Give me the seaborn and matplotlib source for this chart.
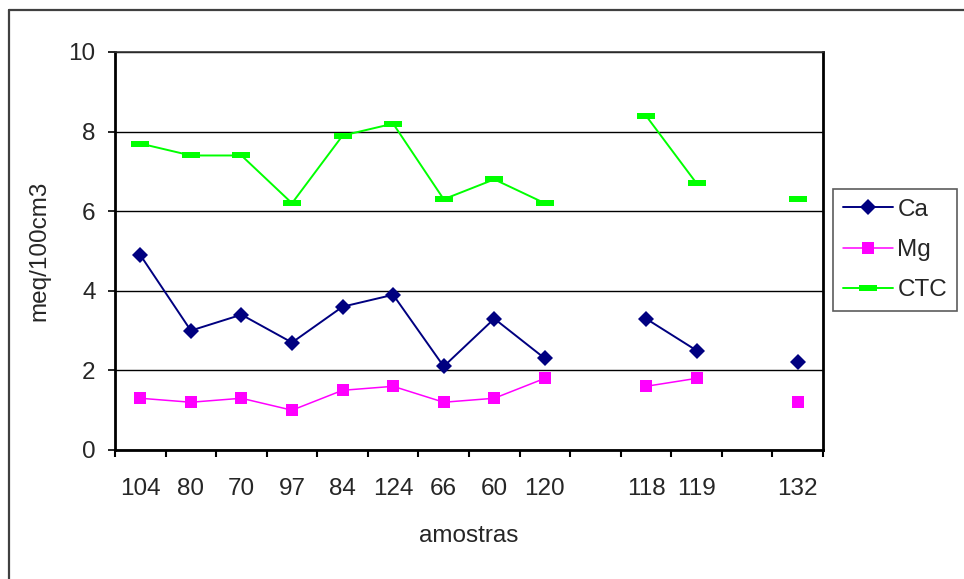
import numpy as np
import pandas as pd
import matplotlib
matplotlib.use("Agg")
import matplotlib.pyplot as plt
from matplotlib.lines import Line2D
import seaborn as sns

# Sample labels along the x axis (empty slots are unlabeled gaps)
amostras = ["104", "80", "70", "97", "84", "124", "66", "60", "120", "", "118", "119", "", "132"]

# Exchangeable cations and CTC (meq/100cm3); NaN where no sample
ca = [4.9, 3.0, 3.4, 2.7, 3.6, 3.9, 2.1, 3.3, 2.3, np.nan, 3.3, 2.5, np.nan, 2.2]
mg = [1.3, 1.2, 1.3, 1.0, 1.5, 1.6, 1.2, 1.3, 1.8, np.nan, 1.6, 1.8, np.nan, 1.2]
ctc = [7.7, 7.4, 7.4, 6.2, 7.9, 8.2, 6.3, 6.8, 6.2, np.nan, 8.4, 6.7, np.nan, 6.3]

series_names = ["Ca", "Mg", "CTC"]
series_values = [ca, mg, ctc]
colors = {"Ca": "#000080", "Mg": "#FF00FF", "CTC": "#00FF00"}
dash_marker = [(-1.0, -0.32), (1.0, -0.32), (1.0, 0.32), (-1.0, 0.32), (-1.0, -0.32)]
markers = {"Ca": "D", "Mg": "s", "CTC": dash_marker}
msizes = {"Ca": 8.5, "Mg": 9, "CTC": 13}
lwidths = {"Ca": 1.4, "Mg": 1.1, "CTC": 1.4}
FS = 17.5

# Long-form table; a segment id keeps lines broken across missing samples
rows = []
pos = np.arange(len(amostras))
for name, vals in zip(series_names, series_values):
    seg = 0
    for i, v in enumerate(vals):
        if np.isnan(v):
            seg += 1
            continue
        rows.append({"pos": i, "valor": v, "serie": name, "seg": seg})
df = pd.DataFrame(rows)

sns.set_theme(style="white")
plt.rcParams["font.family"] = ["Liberation Sans", "DejaVu Sans"]

fig = plt.figure(figsize=(9.64, 5.79), dpi=100)
ax = fig.add_axes([115 / 964, 1 - 450 / 579, (823 - 115) / 964, (450 - 52) / 579])

for name in series_names:
    sub = df[df["serie"] == name]
    sns.lineplot(data=sub, x="pos", y="valor", units="seg", estimator=None,
                 color=colors[name], linewidth=lwidths[name], marker=markers[name],
                 markersize=msizes[name], markeredgecolor=colors[name],
                 markeredgewidth=0, ax=ax, legend=False, sort=False, zorder=3)

ax.set_xlim(-0.5, len(amostras) - 0.5)
ax.set_ylim(0, 10)
ax.set_yticks([0, 2, 4, 6, 8, 10])
ax.set_yticklabels(["0", "2", "4", "6", "8", "10"])
ax.yaxis.grid(True, color="black", linewidth=1.0)
ax.set_axisbelow(True)

# Category boundaries carry the tick marks, centers carry the labels
ax.set_xticks(np.arange(len(amostras) + 1) - 0.5)
ax.set_xticklabels([])
ax.set_xticks(pos, minor=True)
ax.set_xticklabels(amostras, minor=True)
ax.tick_params(axis="x", which="major", direction="out", length=5, width=1.5,
               color="black", bottom=True)
ax.tick_params(axis="x", which="minor", length=0, pad=20, labelsize=FS)
ax.tick_params(axis="y", direction="out", length=5, width=1.2, color="black",
               left=True, pad=9, labelsize=FS)

for side in ["left", "bottom", "right"]:
    ax.spines[side].set_color("black")
    ax.spines[side].set_linewidth(2)
ax.spines["top"].set_color("#333333")
ax.spines["top"].set_linewidth(1.2)

ax.set_xlabel("amostras", fontsize=FS, labelpad=18)
ax.set_ylabel("meq/100cm3", fontsize=FS, labelpad=13)

handles = [Line2D([0], [0], color=colors[n], linewidth=lwidths[n], marker=markers[n],
                  markersize=msizes[n], markeredgewidth=0) for n in series_names]
leg = fig.legend(handles, series_names, loc="center left",
                 bbox_to_anchor=(833 / 964, 1 - 250 / 579), fontsize=FS,
                 frameon=True, fancybox=False, handlelength=2.05,
                 handletextpad=0.2, labelspacing=0.75, borderpad=0.4,
                 borderaxespad=0)
leg.get_frame().set_edgecolor("#333333")
leg.get_frame().set_linewidth(1.2)

# Chart-area frame (top and left edges visible)
fig.add_artist(Line2D([9 / 964, 9 / 964], [0, 1 - 10 / 579], transform=fig.transFigure,
                      color="#404040", linewidth=1.6))
fig.add_artist(Line2D([9 / 964, 1], [1 - 10 / 579, 1 - 10 / 579], transform=fig.transFigure,
                      color="#404040", linewidth=1.6))

fig.savefig("out.png", dpi=100)
